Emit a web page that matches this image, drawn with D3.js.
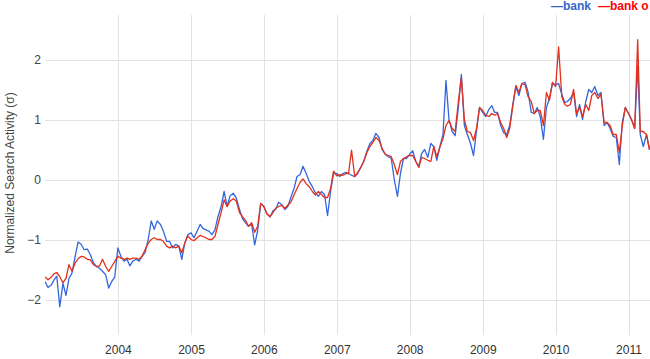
<!DOCTYPE html>
<html><head><meta charset="utf-8">
<script src="https://cdn.jsdelivr.net/npm/d3@7"></script>
<style>html,body{margin:0;padding:0;overflow:hidden;background:#fff}svg{display:block}</style>
</head><body>
<script>
// Semi-monthly readings (1st and 16th of each month), per year
const years = [2003,2004,2005,2006,2007,2008,2009,2010,2011];
const bank2003 = [-1.70,-1.80,-1.76,-1.67,-1.61,-2.12,-1.73,-1.93,-1.65,-1.56,-1.28,-1.04,-1.08,-1.17,-1.16,-1.25,-1.39,-1.45,-1.48,-1.53,-1.59,-1.81,-1.70,-1.63];
const bank2004 = [-1.14,-1.28,-1.36,-1.33,-1.44,-1.36,-1.33,-1.36,-1.28,-1.22,-1.00,-0.69,-0.83,-0.69,-0.75,-0.86,-1.03,-1.03,-1.14,-1.08,-1.11,-1.33,-1.06,-0.92];
const bank2005 = [-0.89,-0.97,-0.86,-0.75,-0.81,-0.84,-0.86,-0.92,-0.84,-0.62,-0.45,-0.20,-0.45,-0.27,-0.23,-0.31,-0.50,-0.65,-0.72,-0.78,-0.75,-1.09,-0.85,-0.40];
const bank2006 = [-0.45,-0.57,-0.62,-0.52,-0.50,-0.38,-0.42,-0.50,-0.45,-0.30,-0.15,0.05,0.08,0.22,0.10,-0.03,-0.12,-0.22,-0.28,-0.20,-0.25,-0.60,-0.20,0.10];
const bank2007 = [0.10,0.05,0.10,0.12,0.10,0.07,0.05,0.10,0.20,0.30,0.47,0.60,0.65,0.77,0.70,0.50,0.42,0.38,0.35,0.00,-0.28,0.10,0.35,0.35];
const bank2008 = [0.42,0.48,0.30,0.22,0.43,0.50,0.37,0.60,0.55,0.32,0.55,0.75,1.65,1.00,0.80,0.73,1.20,1.75,0.90,0.75,0.60,0.40,0.82,1.20];
const bank2009 = [1.12,1.05,1.17,1.23,1.12,1.12,0.90,0.78,0.75,0.90,1.26,1.55,1.40,1.60,1.62,1.46,1.12,1.10,1.20,1.05,0.67,1.20,1.35,1.60];
const bank2010 = [1.58,1.60,1.42,1.28,1.30,1.35,1.45,1.05,1.25,1.00,1.30,1.50,1.45,1.55,1.40,1.45,0.90,0.95,0.85,0.72,0.70,0.25,0.95,1.20];
const bank2011 = [1.10,1.00,0.85,1.90,0.75,0.55,0.75,0.50];

const bankO2003 = [-1.62,-1.67,-1.63,-1.57,-1.55,-1.62,-1.72,-1.65,-1.42,-1.53,-1.39,-1.32,-1.28,-1.29,-1.33,-1.34,-1.42,-1.45,-1.44,-1.33,-1.45,-1.53,-1.45,-1.37];
const bankO2004 = [-1.28,-1.31,-1.33,-1.31,-1.33,-1.31,-1.31,-1.33,-1.28,-1.17,-1.06,-1.00,-0.97,-1.00,-1.00,-1.03,-1.11,-1.14,-1.11,-1.14,-1.11,-1.22,-1.06,-0.94];
const bankO2005 = [-1.00,-1.02,-0.97,-0.93,-0.95,-0.97,-1.00,-1.00,-0.95,-0.75,-0.55,-0.34,-0.45,-0.36,-0.32,-0.36,-0.55,-0.62,-0.68,-0.78,-0.72,-0.88,-0.78,-0.40];
const bankO2006 = [-0.45,-0.57,-0.62,-0.55,-0.48,-0.45,-0.43,-0.48,-0.43,-0.38,-0.26,-0.15,-0.05,0.01,-0.07,-0.12,-0.20,-0.26,-0.20,-0.25,-0.30,-0.30,-0.15,0.14];
const bankO2007 = [0.06,0.08,0.07,0.10,0.10,0.49,0.05,0.12,0.20,0.30,0.45,0.55,0.62,0.70,0.65,0.52,0.42,0.40,0.38,0.25,0.08,0.30,0.35,0.38];
const bankO2008 = [0.40,0.40,0.30,0.20,0.37,0.35,0.32,0.30,0.55,0.38,0.55,0.68,0.90,0.98,0.85,0.80,1.30,1.70,1.00,0.80,0.78,0.65,0.85,1.20];
const bankO2009 = [1.15,1.07,1.05,1.10,1.07,1.10,0.95,0.85,0.70,0.85,1.23,1.57,1.45,1.60,1.58,1.38,1.30,1.10,1.15,1.15,0.90,1.45,1.32,1.62];
const bankO2010 = [1.55,2.21,1.38,1.25,1.22,1.25,1.50,1.10,1.20,1.05,1.25,1.15,1.40,1.45,1.35,1.42,0.95,0.95,0.90,0.75,0.75,0.45,0.90,1.20];
const bankO2011 = [1.10,1.00,0.85,2.33,0.80,0.80,0.75,0.50];

const yTicks = [-2,-1,0,1,2];
const xTickYears = [2004,2005,2006,2007,2008,2009,2010,2011];
const seriesNames = ["bank","bank o"];
const colors = ["#3366dd","#e3301c"];
const legendColors = ["#3366cc","#ff0000"];

const bankByYear = [bank2003,bank2004,bank2005,bank2006,bank2007,bank2008,bank2009,bank2010,bank2011];
const bankOByYear = [bankO2003,bankO2004,bankO2005,bankO2006,bankO2007,bankO2008,bankO2009,bankO2010,bankO2011];

function toSeries(byYear){
  const out = [];
  byYear.forEach((arr, yi) => {
    arr.forEach((v, i) => out.push({date: new Date(years[yi], Math.floor(i/2), i % 2 ? 16 : 1), value: v}));
  });
  return out;
}
const data = [toSeries(bankByYear), toSeries(bankOByYear)];

const W = 650, H = 359;
const svg = d3.select("body").append("svg").attr("width", W).attr("height", H);
const plotL = 45, plotR = 650, plotT = 15, plotB = 335;

const x = d3.scaleTime().domain([new Date(2003,0,1), new Date(2011,0,1)]).range([45, 628.5]);
const y = d3.scaleLinear().domain([-2, 2]).range([299.5, 59.5]);

const font = "Arial, 'Liberation Sans', sans-serif";

// gridlines
svg.append("g").selectAll("line.h").data(yTicks).join("line")
  .attr("x1", plotL).attr("x2", plotR)
  .attr("y1", d => Math.round(y(d)) + 0.5).attr("y2", d => Math.round(y(d)) + 0.5)
  .attr("stroke", "#e2e2e2").attr("stroke-width", 1);
svg.append("g").selectAll("line.v").data(xTickYears).join("line")
  .attr("x1", d => Math.round(x(new Date(d,0,1))) + 0.5).attr("x2", d => Math.round(x(new Date(d,0,1))) + 0.5)
  .attr("y1", plotT).attr("y2", plotB)
  .attr("stroke", "#e2e2e2").attr("stroke-width", 1);

// axes labels via d3 axes
const yAxis = d3.axisLeft(y).tickValues(yTicks).tickSize(0).tickPadding(0).tickFormat(d3.format("d"));
const gy = svg.append("g").attr("transform", `translate(41,0)`).call(yAxis);
gy.select(".domain").remove();
gy.selectAll("text").attr("font-family", font).attr("font-size", 12).attr("fill", "#444").attr("dy", "0.35em");

const xAxis = d3.axisBottom(x).tickValues(xTickYears.map(d => new Date(d,0,1))).tickSize(0).tickPadding(0).tickFormat(d3.timeFormat("%Y"));
const gx = svg.append("g").attr("transform", `translate(0,345)`).call(xAxis);
gx.select(".domain").remove();
gx.selectAll("text").attr("font-family", font).attr("font-size", 12).attr("fill", "#333").attr("dy", "0.71em");

svg.append("text")
  .attr("transform", "translate(14,173) rotate(-90)")
  .attr("text-anchor", "middle")
  .attr("font-family", font).attr("font-size", 12).attr("fill", "#444")
  .text("Normalized Search Activity (σ)");

// lines
svg.append("clipPath").attr("id", "clip").append("rect")
  .attr("x", plotL).attr("y", plotT).attr("width", plotR - plotL).attr("height", plotB - plotT);
const line = d3.line().x(d => x(d.date)).y(d => y(d.value));
svg.append("g").attr("clip-path", "url(#clip)").selectAll("path").data(data).join("path")
  .attr("d", line).attr("fill", "none")
  .attr("stroke", (d, i) => colors[i]).attr("stroke-width", 1.3)
  .attr("stroke-linejoin", "round");

// legend
const leg = svg.append("text").attr("y", 10).attr("font-family", font).attr("font-size", 12).attr("font-weight", "bold");
leg.append("tspan").attr("x", 551).attr("fill", legendColors[0]).text("—" + seriesNames[0]);
leg.append("tspan").attr("x", 598).attr("fill", legendColors[1]).text("—" + seriesNames[1]);
</script>
</body></html>
